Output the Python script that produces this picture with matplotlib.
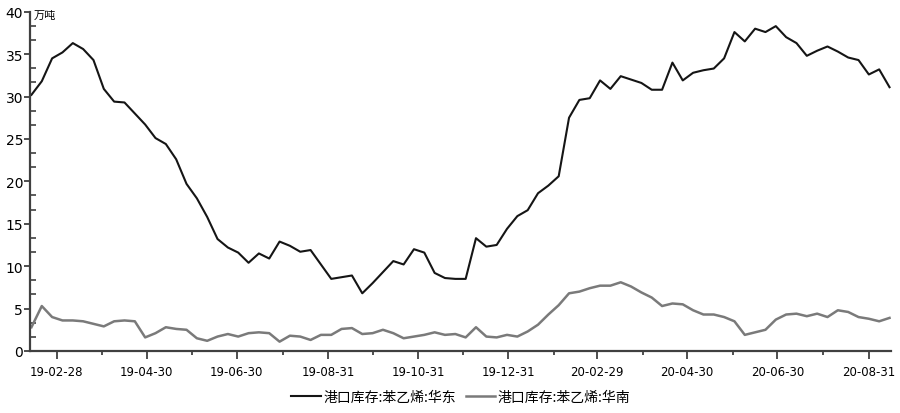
import matplotlib
matplotlib.use('Agg')
import matplotlib.pyplot as plt
import matplotlib.dates as mdates
from matplotlib.ticker import MultipleLocator
import pandas as pd
import numpy as np

plt.rcParams['font.family'] = ['DejaVu Sans', 'Noto Sans CJK SC']

# weekly data, Mondays 2019-02-11 .. 2020-09-14
dates = pd.date_range('2019-02-11', periods=84, freq='7D')

east = [30.2, 31.8, 34.5, 35.2, 36.3, 35.6, 34.3, 30.9, 29.4, 29.3,
        28.0, 26.7, 25.1, 24.4, 22.6, 19.7, 18.0, 15.8, 13.2, 12.2,
        11.6, 10.4, 11.5, 10.9, 12.9, 12.4, 11.7, 11.9, 10.2, 8.5,
        8.7, 8.9, 6.8, 8.0, 9.3, 10.6, 10.2, 12.0, 11.6, 9.2,
        8.6, 8.5, 8.5, 13.3, 12.3, 12.5, 14.4, 15.9, 16.6, 18.6,
        19.5, 20.6, 27.5, 29.6, 29.8, 31.9, 30.9, 32.4, 32.0, 31.6,
        30.8, 30.8, 34.0, 31.9, 32.8, 33.1, 33.3, 34.5, 37.6, 36.5,
        38.0, 37.6, 38.3, 37.0, 36.3, 34.8, 35.4, 35.9, 35.3, 34.6,
        34.3, 32.6, 33.2, 31.1]

south = [2.8, 5.3, 4.0, 3.6, 3.6, 3.5, 3.2, 2.9, 3.5, 3.6,
         3.5, 1.6, 2.1, 2.8, 2.6, 2.5, 1.5, 1.2, 1.7, 2.0,
         1.7, 2.1, 2.2, 2.1, 1.1, 1.8, 1.7, 1.3, 1.9, 1.9,
         2.6, 2.7, 2.0, 2.1, 2.5, 2.1, 1.5, 1.7, 1.9, 2.2,
         1.9, 2.0, 1.6, 2.8, 1.7, 1.6, 1.9, 1.7, 2.3, 3.1,
         4.3, 5.4, 6.8, 7.0, 7.4, 7.7, 7.7, 8.1, 7.6, 6.9,
         6.3, 5.3, 5.6, 5.5, 4.8, 4.3, 4.3, 4.0, 3.5, 1.9,
         2.2, 2.5, 3.7, 4.3, 4.4, 4.1, 4.4, 4.0, 4.8, 4.6,
         4.0, 3.8, 3.5, 3.9]

labels = ['港口库存:苯乙烯:华东', '港口库存:苯乙烯:华南']
major_ticks = pd.to_datetime(['2019-02-28', '2019-04-30', '2019-06-30', '2019-08-31',
                              '2019-10-31', '2019-12-31', '2020-02-29', '2020-04-30',
                              '2020-06-30', '2020-08-31'])
minor_ticks = pd.to_datetime(['2019-03-31', '2019-05-31', '2019-07-31', '2019-09-30',
                              '2019-11-30', '2020-01-31', '2020-03-31', '2020-05-31',
                              '2020-07-31'])

fig = plt.figure(figsize=(9, 4.14), dpi=100)
ax = fig.add_axes([0.0333, 0.1498, 0.9567, 0.8195])

ax.plot(dates, east, color='#151515', lw=1.5, label=labels[0])
ax.plot(dates, south, color='#7a7a7a', lw=1.8, label=labels[1])

ax.set_xlim(pd.Timestamp('2019-02-10'), pd.Timestamp('2020-09-15'))
ax.set_ylim(0, 40)

for s in ['top', 'right']:
    ax.spines[s].set_visible(False)
for s in ['left', 'bottom']:
    ax.spines[s].set_color('#404040')
    ax.spines[s].set_linewidth(1.6)

ax.set_xticks(major_ticks)
ax.set_xticks(minor_ticks, minor=True)
ax.xaxis.set_major_formatter(mdates.DateFormatter('%y-%m-%d'))
ax.tick_params(axis='x', which='major', direction='out', length=6, width=1.3,
               color='#404040', labelsize=8.5, pad=4)
ax.tick_params(axis='x', which='minor', direction='out', length=3, width=1.3,
               color='#404040')

ax.yaxis.set_major_locator(MultipleLocator(5))
ax.yaxis.set_minor_locator(MultipleLocator(5 / 3))
ax.tick_params(axis='y', which='major', direction='out', length=4, width=1.3,
               color='#404040', labelsize=10, pad=1)
ax.tick_params(axis='y', which='minor', direction='in', length=4, width=1.2,
               color='#404040')

fig.text(0.037, 0.975, '万吨', fontsize=8, family=['Noto Sans CJK SC', 'DejaVu Sans'],
         ha='left', va='top')

leg = fig.legend(loc='center', bbox_to_anchor=(0.512, 0.039), ncol=2, frameon=False,
                 handlelength=2.1, handletextpad=0.2, columnspacing=0.7,
                 prop={'family': ['Noto Sans CJK SC', 'DejaVu Sans'], 'size': 10})

fig.savefig('out.png', dpi=100)
